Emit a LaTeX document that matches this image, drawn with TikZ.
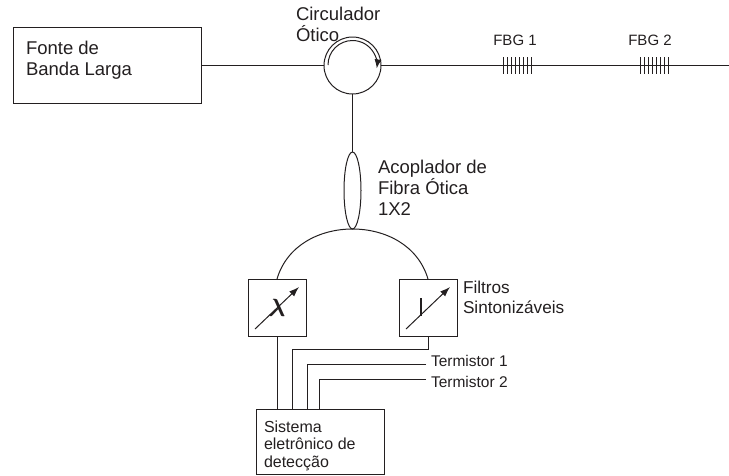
\documentclass[tikz,border=0pt]{standalone}
\usepackage{amsmath}
\usepackage{fontspec}
\setmainfont{Liberation Sans}
\usetikzlibrary{arrows.meta}
\usetikzlibrary{shapes.geometric}
\usetikzlibrary{calc}
\definecolor{inkc}{RGB}{35,31,32}
\newcommand{\lblsize}{\fontsize{18.5}{21}\selectfont}
\newcommand{\midsize}{\fontsize{17.2}{20}\selectfont}
\newcommand{\smsize}{\fontsize{16}{17.5}\selectfont}
\newcommand{\tersize}{\fontsize{15.5}{18}\selectfont}
\begin{document}
\begin{tikzpicture}[x=1pt,y=-1pt,line width=1pt,color=inkc]
\tikzstyle{every node}=[inner sep=0pt,outer sep=0pt,text=inkc]
\tikzstyle{blockbox}=[draw,rectangle,minimum width=188.5pt,minimum height=76pt]
\tikzstyle{filterbox}=[draw,rectangle,minimum width=58pt,minimum height=57pt]
\tikzstyle{lbl}=[anchor=north west,align=left,font=\lblsize]
\tikzstyle{smlbl}=[anchor=west,font=\tersize]
\useasboundingbox (0,0) rectangle (729,475);
\node[blockbox] (fonte) at (107.25,65.5) {};
\node[lbl] (fontelbl) at (26,41) {Fonte de\\Banda Larga};
\node[draw,circle,minimum size=57pt] (circ) at (352.5,65.5) {};
\node[lbl] (circlbl) at (296,7) {Circulador\\Ótico};
\coordinate (fimfibra) at (729,65.5);
\draw (fonte.east |- circ.west) -- (circ.west);
\draw (circ.east) -- (fimfibra);
\draw[-{Latex[length=9pt,width=7pt]}] (328,65) arc (180:368:24.5);
% redes de Bragg
\node[minimum width=28pt,minimum height=17pt] (fbg1) at (517,65.5) {};
\node[minimum width=28pt,minimum height=17pt] (fbg2) at (654.5,65.5) {};
\foreach \g in {fbg1,fbg2}
  \foreach \k in {0,...,7}
    \draw[line width=0.8pt] ($(\g.north west)+(\k*4,0)$) -- ($(\g.south west)+(\k*4,0)$);
\node[font=\fontsize{15}{18}\selectfont] (fbg1lbl) at (515,40) {FBG 1};
\node[font=\fontsize{15}{18}\selectfont] (fbg2lbl) at (650,40) {FBG 2};
% acoplador
\node[draw,ellipse,minimum width=17pt,minimum height=77pt] (acop) at (352.5,190.5) {};
\node[lbl] (acoplbl) at (378,160) {Acoplador de\\Fibra Ótica\\1X2};
\draw (circ.south) -- (acop.north);
% filtros
\node[filterbox] (filta) at (277,307.5) {};
\node[filterbox] (filtb) at (428,307.5) {};
\node[lbl,font=\midsize] (filtlbl) at (463,281) {Filtros\\Sintonizáveis};
\draw (filta.north) .. controls (287,245) and (320,229) .. (acop.south);
\draw (filtb.north) .. controls (418,245) and (385,229) .. (acop.south);
\draw[-{Latex[length=10pt,width=7pt]}] (255,329) -- (299,287);
\draw[-{Latex[length=10pt,width=7pt]}] (406,329) -- (450,287);
\node[font=\fontsize{26}{26}\selectfont] (lam) at (277,308) {$\boldsymbol{\lambda}$};
\draw[line width=2pt] (421,298) -- (421,316);
% deteccao
\node[draw,rectangle,minimum width=128pt,minimum height=65pt] (sist) at (320,441.5) {};
\node[anchor=north west,align=left,font=\smsize] (sistlbl) at (264,420.5) {Sistema\\eletrônico de\\detecção};
\node[smlbl] (tera) at (431,360.5) {Termistor 1};
\node[smlbl] (terb) at (431,382) {Termistor 2};
\coordinate (terafim) at (426,364);
\coordinate (terbfim) at (426,379);
\draw (filta.south) -- (filta.south |- sist.north);
\draw (filtb.south) |- (292,349) -- (292,409);
\draw (terafim) -- (307,364) -- (307,409);
\draw (terbfim) -- (319,379) -- (319,409);
\end{tikzpicture}
\end{document}
